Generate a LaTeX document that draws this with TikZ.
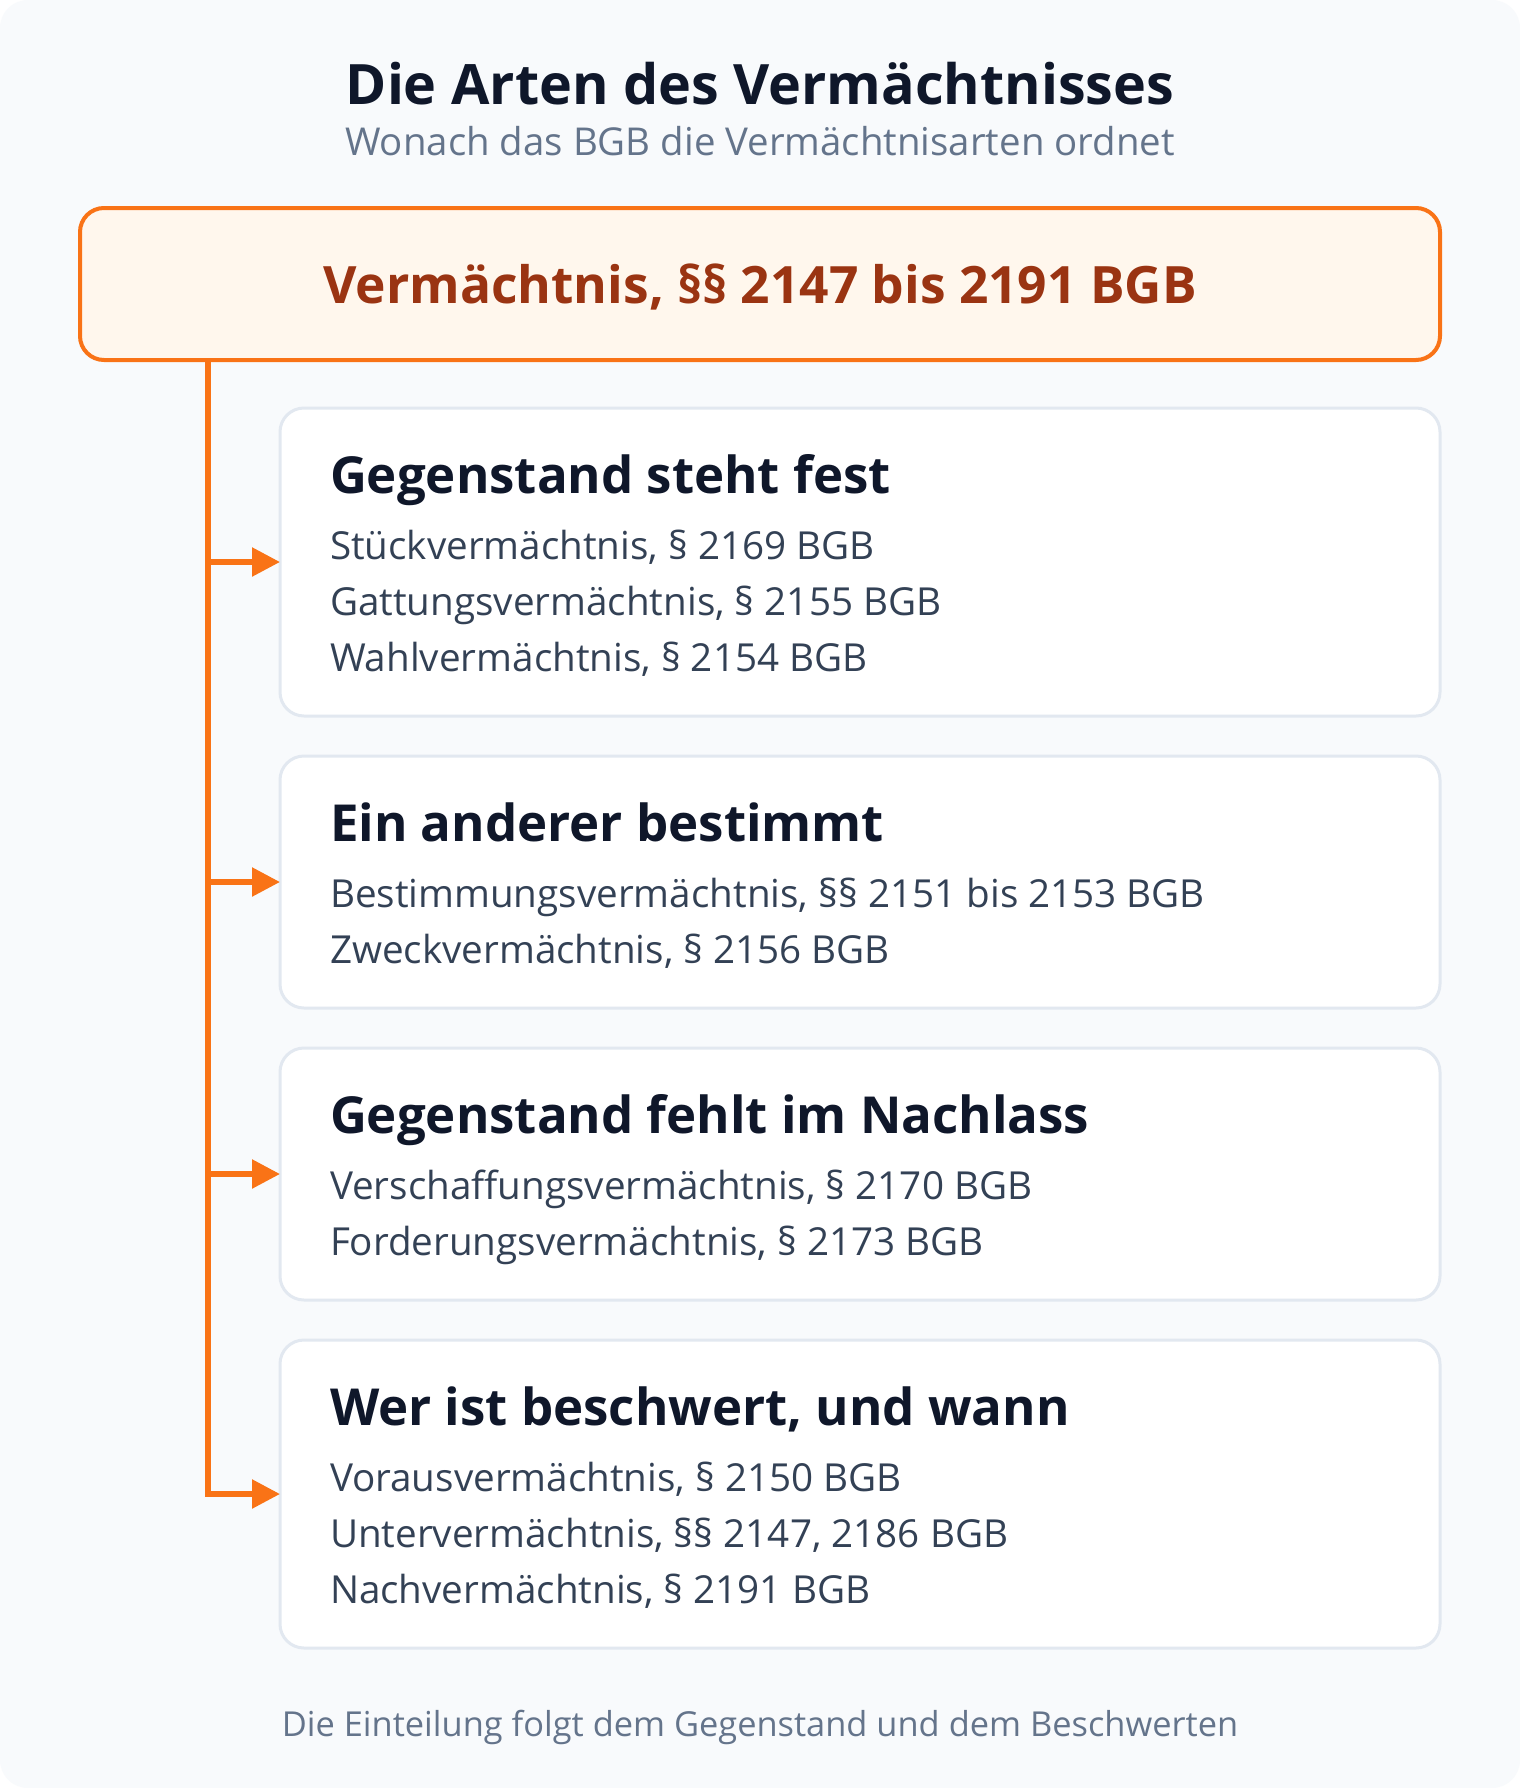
\documentclass[tikz,border=0pt]{standalone}
\usepackage{fontspec}
\setmainfont{Open Sans}
\usetikzlibrary{arrows.meta}
\definecolor{pagebg}{HTML}{F8FAFC}
\definecolor{ink}{HTML}{0F172A}
\definecolor{muted}{HTML}{64748B}
\definecolor{body}{HTML}{334155}
\definecolor{accent}{HTML}{F97316}
\definecolor{accentfill}{HTML}{FFF7ED}
\definecolor{accentink}{HTML}{9A3412}
\definecolor{cardline}{HTML}{E2E8F0}
\tikzset{
  txt/.style={inner sep=0pt, outer sep=0pt},
  card/.style={draw=cardline, line width=3pt, fill=white, rounded corners=24pt,
    minimum width=1160pt, anchor=north west, inner sep=0pt, outer sep=0pt},
  topbox/.style={draw=accent, line width=4pt, fill=accentfill, rounded corners=24pt,
    minimum width=1360pt, minimum height=152pt, inner sep=0pt, outer sep=0pt},
  heading/.style={txt, anchor=base west, text=ink, font=\bfseries\fontsize{51}{62}\selectfont},
  item/.style={txt, anchor=base west, text=body, font=\fontsize{38.6}{46}\selectfont},
  conn/.style={draw=accent, line width=5.5pt, -{Triangle[length=28pt,width=28pt]}},
}
\begin{document}
\begin{tikzpicture}[x=1pt,y=-1pt]
\useasboundingbox (0,0) rectangle (1520,1788);
\fill[white] (0,0) rectangle (1520,1788);
\fill[pagebg, rounded corners=28pt] (0,0) rectangle (1520,1788);

\node[txt, anchor=base, text=ink, font=\bfseries\fontsize{55.7}{66}\selectfont] (title) at (760,104) {Die Arten des Vermächtnisses};
\node[txt, anchor=base, text=muted, font=\fontsize{38.4}{46}\selectfont] (subtitle) at (760,155) {Wonach das BGB die Vermächtnisarten ordnet};

\node[topbox] (top) at (760,284) {};
\node[txt, anchor=base, text=accentink, font=\bfseries\fontsize{51.5}{62}\selectfont] (toptext) at (760,303) {Vermächtnis, §§ 2147 bis 2191 BGB};

\coordinate (spine) at (208,360);

% card 1
\node[card, minimum height=308pt] (c1) at (280,408) {};
\node[heading] (h1) at (330,493) {Gegenstand steht fest};
\node[item] (i11) at (330,559) {Stückvermächtnis, § 2169 BGB};
\node[item] (i12) at (330,615) {Gattungsvermächtnis, § 2155 BGB};
\node[item] (i13) at (330,671) {Wahlvermächtnis, § 2154 BGB};

% card 2
\node[card, minimum height=252pt] (c2) at (280,756) {};
\node[heading] (h2) at (330,841) {Ein anderer bestimmt};
\node[item] (i21) at (330,907) {Bestimmungsvermächtnis, §§ 2151 bis 2153 BGB};
\node[item] (i22) at (330,963) {Zweckvermächtnis, § 2156 BGB};

% card 3
\node[card, minimum height=252pt] (c3) at (280,1048) {};
\node[heading] (h3) at (330,1133) {Gegenstand fehlt im Nachlass};
\node[item] (i31) at (330,1199) {Verschaffungsvermächtnis, § 2170 BGB};
\node[item] (i32) at (330,1255) {Forderungsvermächtnis, § 2173 BGB};

% card 4
\node[card, minimum height=308pt] (c4) at (280,1340) {};
\node[heading] (h4) at (330,1425) {Wer ist beschwert, und wann};
\node[item] (i41) at (330,1491) {Vorausvermächtnis, § 2150 BGB};
\node[item] (i42) at (330,1547) {Untervermächtnis, §§ 2147, 2186 BGB};
\node[item] (i43) at (330,1603) {Nachvermächtnis, § 2191 BGB};

% connectors
\draw[conn] (top.south -| spine) |- (c4.west);
\draw[conn] (spine |- c1.west) -- (c1.west);
\draw[conn] (spine |- c2.west) -- (c2.west);
\draw[conn] (spine |- c3.west) -- (c3.west);

\node[txt, anchor=base, text=muted, font=\fontsize{34.4}{41}\selectfont] (footer) at (760,1736) {Die Einteilung folgt dem Gegenstand und dem Beschwerten};
\end{tikzpicture}
\end{document}
